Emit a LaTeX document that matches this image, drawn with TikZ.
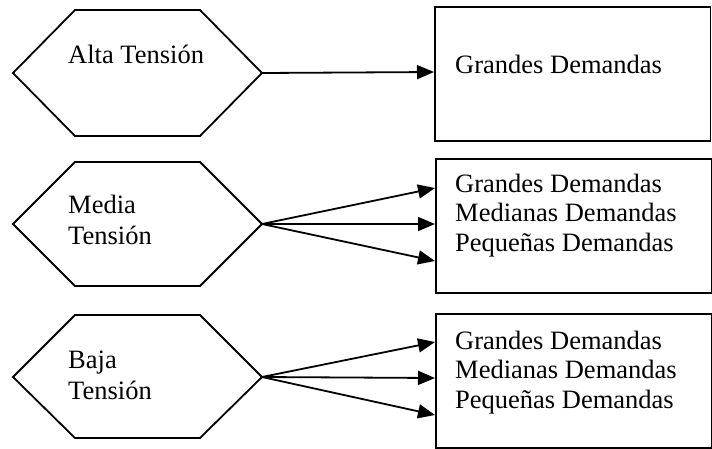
\documentclass[tikz,border=0pt]{standalone}
\usepackage{fontspec}
\setmainfont{Liberation Serif}
\usetikzlibrary{arrows.meta}
\begin{document}
\begin{tikzpicture}[x=1pt,y=-1pt,
  outline/.style={draw=black,line width=1.8pt,line join=miter},
  link/.style={draw=black,line width=1.8pt,-{Triangle[length=17pt,width=14pt]}},
  label/.style={inner sep=0pt,anchor=base west,align=left,
    font=\fontsize{26.5}{29.5}\selectfont},
  hexlabel/.style={label,font=\fontsize{26.5}{31}\selectfont},
  demand/.style={draw=black,line width=1.8pt,inner sep=0pt,anchor=north west,
    minimum width=275.5pt,minimum height=134pt}]
\useasboundingbox (0,0) rectangle (712,448);

% voltage levels (hexagons); multi-line labels sit on the baseline of their last line
\draw[outline] (13,73) -- (75,10) -- (200,10) -- (262,73) -- (200,136) -- (75,136) -- cycle;
\coordinate (h1) at (262,73);
\node[hexlabel] (t1) at (68,63) {Alta Tensión};

\draw[outline] (13,224) -- (75,162) -- (200,162) -- (262,224) -- (200,286) -- (75,286) -- cycle;
\coordinate (h2) at (262,224);
\node[hexlabel] (t2) at (68,244) {Media\\Tensión};

\draw[outline] (13,377) -- (75,315) -- (200,315) -- (262,377) -- (200,438) -- (75,438) -- cycle;
\coordinate (h3) at (262,377);
\node[hexlabel] (t3) at (68,399) {Baja\\Tensión};

% demand boxes
\node[demand] (b1) at (434,6) {};
\node[label] (d1) at (455,73) {Grandes Demandas};

\node[demand] (b2) at (435,158) {};
\node[label] (d2) at (455,251) {Grandes Demandas\\Medianas Demandas\\Pequeñas Demandas};

\node[demand] (b3) at (435,313) {};
\node[label] (d3) at (455,408) {Grandes Demandas\\Medianas Demandas\\Pequeñas Demandas};

% connectors
\coordinate (e1) at (434,72);
\draw[link] (h1) -- (e1);

\coordinate (e21) at (435,188);
\coordinate (e22) at (435,224);
\coordinate (e23) at (435,261);
\draw[link] (h2) -- (e21);
\draw[link] (h2) -- (e22);
\draw[link] (h2) -- (e23);

\coordinate (e31) at (435,342);
\coordinate (e32) at (435,378);
\coordinate (e33) at (435,415);
\draw[link] (h3) -- (e31);
\draw[link] (h3) -- (e32);
\draw[link] (h3) -- (e33);
\end{tikzpicture}
\end{document}
